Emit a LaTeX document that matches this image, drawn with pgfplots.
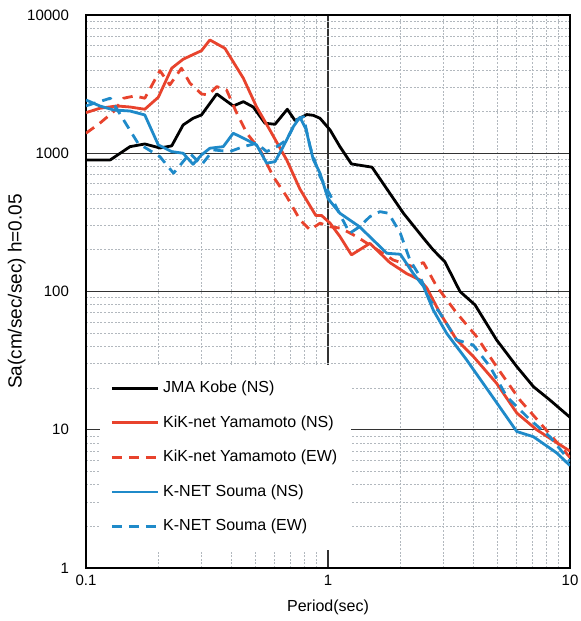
\documentclass[border=0pt]{standalone}
\usepackage{fontspec}
\setmainfont{Liberation Sans}
\usepackage{pgfplots}
\pgfplotsset{compat=1.18}
\definecolor{cred}{RGB}{232,67,45}
\definecolor{cblue}{RGB}{31,138,201}
\definecolor{mgrid}{RGB}{178,184,190}
\begin{document}
\begin{tikzpicture}
\begin{axis}[
  name=ax,
  scale only axis,
  width=242pt, height=276.5pt,
  xmode=log, ymode=log,
  xmin=0.1, xmax=10, ymin=1, ymax=10000,
  xtick={0.1,1,10}, xticklabels={0.1,1,10},
  ytick={1,10,100,1000,10000},
  yticklabels={1\hspace*{5pt},10\hspace*{5pt},100\hspace*{5pt},1000\hspace*{5pt},10000\hspace*{5pt}},
  minor xtick={0.2,0.3,0.4,0.5,0.6,0.7,0.8,0.9,2,3,4,5,6,7,8,9},
  minor ytick={2,3,4,5,6,7,8,9,20,30,40,50,60,70,80,90,200,300,400,500,600,700,800,900,2000,3000,4000,5000,6000,7000,8000,9000},
  grid=both,
  major grid style={black!80, line width=0.6pt},
  minor grid style={mgrid, line width=0.5pt, dash pattern=on 1pt off 0.8pt},
  major tick length=0pt, minor tick length=0pt,
  axis line style={black, line width=0.7pt},
  tick label style={font=\fontsize{7.5}{9}\selectfont},
  /pgf/number format/assume math mode=true,
  xlabel={Period(sec)},
  ylabel={Sa(cm/sec/sec) h=0.05},
  every axis x label/.style={at={(axis description cs:0.5,-0.0705)}, anchor=center, font=\fontsize{8}{9.6}\selectfont},
  every axis y label/.style={at={(axis description cs:-0.143,0.5)}, anchor=center, rotate=90, font=\fontsize{9.5}{11}\selectfont},
  legend cell align=left,
  legend style={at={(axis description cs:0.029,0.032)}, anchor=south west, fill=white, draw=none,
    font=\fontsize{8}{9.6}\selectfont, row sep=6pt, inner xsep=5pt, inner ysep=6pt},
  legend image code/.code={\draw[#1] (0pt,0pt) -- (23pt,0pt);},
  every axis plot/.append style={line width=1.4pt, line join=round},
]
\addplot[black] coordinates {
(0.1,895)(0.126,895)(0.152,1116)(0.175,1167)(0.202,1092)(0.226,1130)(0.252,1602)(0.277,1790)(0.30,1892)(0.347,2685)(0.406,2198)(0.447,2360)(0.491,2160)(0.549,1648)(0.604,1620)(0.679,2080)(0.731,1722)(0.817,1905)(0.87,1880)(0.927,1790)(1.02,1473)(1.12,1116)(1.25,837)(1.52,793)(2.05,368)(2.48,243)(2.72,200)(3.04,164)(3.51,100)(4.05,80)(4.97,44.7)(6.03,28.6)(7.06,20.5)(8.26,16.4)(10,12.3)
};
\addlegendentry{JMA Kobe (NS)}
\addplot[cred] coordinates {
(0.1,1966)(0.114,2114)(0.134,2198)(0.152,2160)(0.175,2080)(0.199,2540)(0.226,4120)(0.252,4786)(0.30,5520)(0.325,6597)(0.375,5740)(0.447,3484)(0.507,2160)(0.575,1473)(0.675,895)(0.766,550)(0.89,355)(0.94,355)(1.02,312)(1.12,250)(1.25,184)(1.49,223)(1.80,162)(2.11,135)(2.40,121)(2.56,106)(2.90,70)(3.40,44.7)(3.98,34)(4.97,21.7)(6.03,13.2)(7.28,10)(10,7)
};
\addlegendentry{KiK-net Yamamoto (NS)}
\addplot[cred, dash pattern=on 5pt off 3.5pt] coordinates {
(0.1,1396)(0.114,1648)(0.13,2000)(0.143,2500)(0.159,2597)(0.175,2500)(0.202,3957)(0.222,3120)(0.248,4120)(0.269,3207)(0.30,2685)(0.32,2640)(0.347,3034)(0.381,2868)(0.42,1946)(0.462,1396)(0.524,1057)(0.594,678)(0.675,486)(0.766,330)(0.843,279)(0.927,312)(1.02,294)(1.13,287)(1.31,250)(1.86,169)(2.25,151)(2.48,162)(2.81,109)(3.40,70)(4.11,47.2)(4.97,28.6)(6.21,16.4)(7.52,11.2)(10,6.3)
};
\addlegendentry{KiK-net Yamamoto (EW)}
\addplot[cblue] coordinates {
(0.1,2429)(0.114,2198)(0.13,2056)(0.152,2020)(0.175,1892)(0.199,1148)(0.226,1028)(0.252,1000)(0.277,832)(0.30,972)(0.325,1087)(0.369,1116)(0.406,1396)(0.462,1248)(0.507,1148)(0.558,847)(0.604,870)(0.653,1116)(0.719,1557)(0.766,1820)(0.81,1500)(0.869,900)(0.927,717)(1.0,470)(1.12,368)(1.35,294)(1.75,189)(1.99,186)(2.25,135)(2.48,109)(2.72,73.6)(3.09,49.9)(3.74,32)(4.67,18.4)(6.03,9.7)(7.06,8.9)(8.81,6.8)(10,5.5)
};
\addlegendentry{K-NET Souma (NS)}
\addplot[cblue, dash pattern=on 5pt off 3.5pt] coordinates {
(0.1,2200)(0.126,2500)(0.143,1742)(0.164,1181)(0.202,945)(0.23,717)(0.269,1000)(0.30,823)(0.336,1057)(0.393,1028)(0.447,1116)(0.507,1181)(0.558,1028)(0.614,1116)(0.675,1248)(0.743,1742)(0.792,1840)(0.843,1116)(0.927,678)(1.02,500)(1.15,330)(1.23,264)(1.35,294)(1.49,348)(1.64,378)(1.78,368)(1.99,264)(2.18,169)(2.40,128)(2.63,87)(2.90,70)(3.40,44.7)(3.98,41)(4.67,28.6)(5.47,17.4)(6.84,11.8)(8.26,8.9)(10,5.9)
};
\addlegendentry{K-NET Souma (EW)}
\end{axis}
\pgfresetboundingbox
\path ([xshift=-43pt,yshift=-26.5pt]ax.south west) rectangle ([xshift=5pt,yshift=7.5pt]ax.north east);
\end{tikzpicture}
\end{document}
